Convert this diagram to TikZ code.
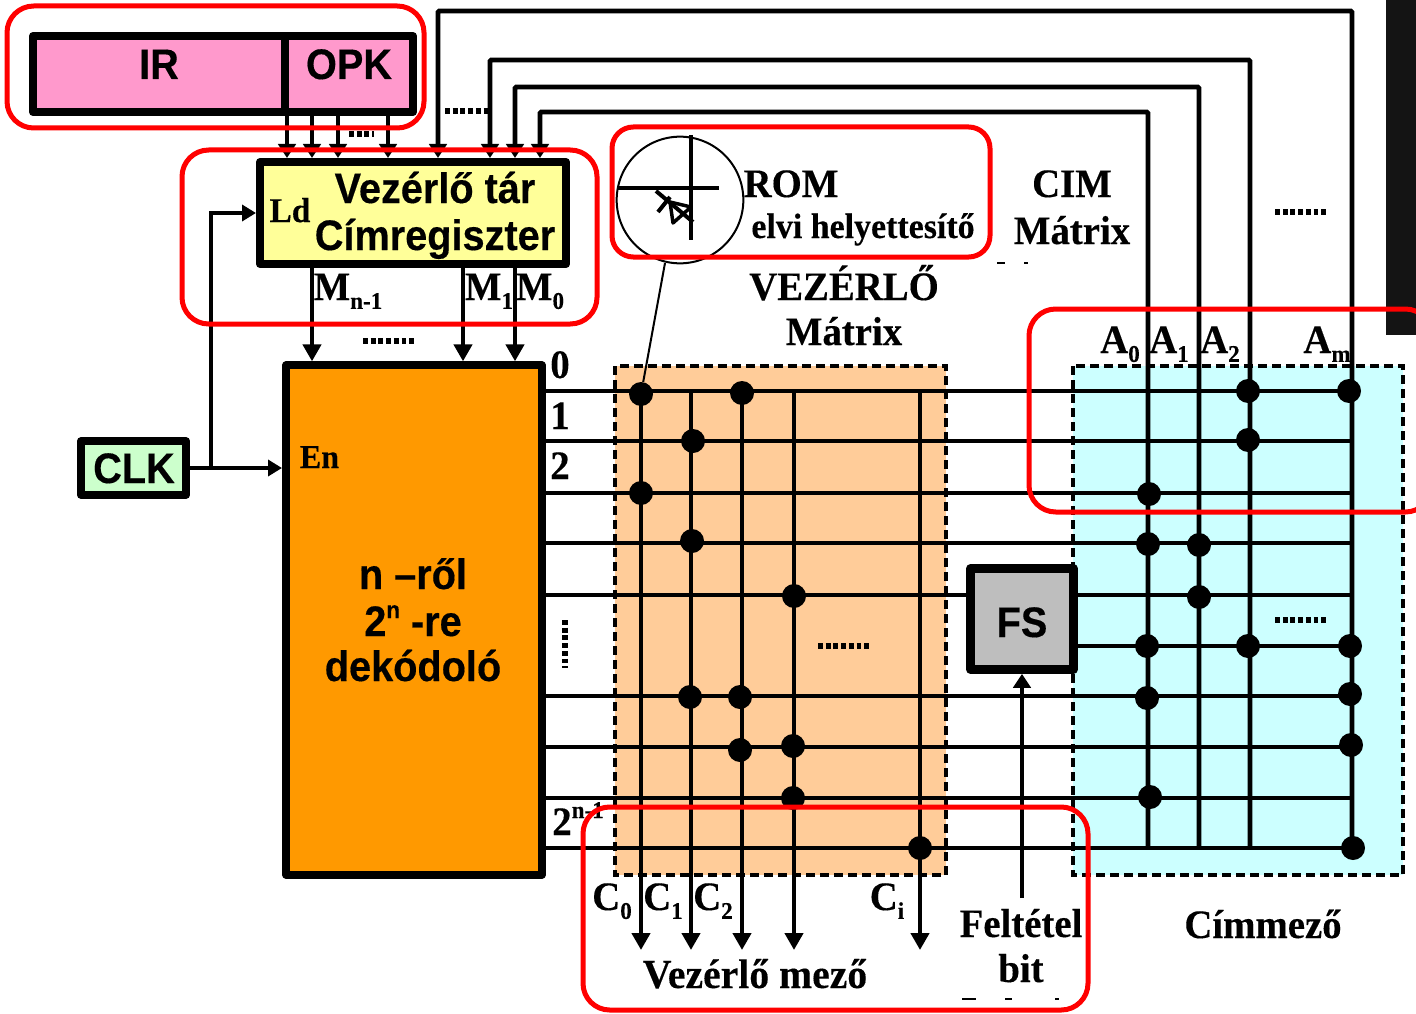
\documentclass[tikz,border=0pt]{standalone}
\usepackage{fontspec}
\setmainfont{Liberation Serif}[FakeStretch=0.96,BoldFeatures={FakeBold=0.25}]
\setsansfont{Liberation Sans}[FakeStretch=0.93,BoldFeatures={FakeBold=0.35}]
\usetikzlibrary{arrows.meta}
\newcommand\lsub[1]{\raisebox{-.22em}{\fontsize{18}{18}\selectfont #1}}
\newcommand\lsup[1]{\raisebox{.42em}{\fontsize{18}{18}\selectfont #1}}
\tikzset{
  box/.style={draw=black,line width=6pt,line join=round,inner sep=0pt},
  region/.style={draw=black,line width=3pt,dash pattern=on 7pt off 3.5pt},
  wire/.style={line width=3.6pt,draw=black},
  rowline/.style={line width=3pt,draw=black},
  bigtip/.style={-{Triangle[length=12.75pt,width=13.5pt]}},
  smalltip/.style={-{Triangle[length=10.5pt,width=13pt]}},
  junction/.style={circle,fill=black,inner sep=0pt,minimum size=18pt},
  dotrun/.style={line width=3.8pt,draw=black,dash pattern=on 3.6pt off 2.2pt},
  redbox/.style={draw=red,line width=3.75pt,rounded corners=20pt},
  sanslab/.style={font=\sffamily\bfseries\fontsize{32}{33}\selectfont,anchor=base,inner sep=0pt},
  seriflab/.style={font=\bfseries\fontsize{30.3}{31}\selectfont,anchor=base,inner sep=0pt},
}
\begin{document}
\begin{tikzpicture}[x=.75pt,y=-.75pt]
\useasboundingbox (0,0) rectangle (1416,1013);
% dark strip at the right edge
\fill[black!92] (1386,0) rectangle (1416,335);
% coloured regions
\fill[fill={rgb,255:red,255;green,204;blue,153}] (615,366) rectangle (946,875);
\fill[fill={rgb,255:red,204;green,255;blue,255}] (1073,366) rectangle (1403,875);
\draw[region] (615,366) rectangle (946,875);
\draw[region] (1073,366) rectangle (1403,875);
% boxes
\node[box,fill={rgb,255:red,255;green,153;blue,204},minimum width=285pt,minimum height=57pt] (ir) at (223,74) {};
\node[box,fill={rgb,255:red,255;green,255;blue,153},minimum width=229.5pt,minimum height=76.5pt] (car) at (413,213) {};
\node[box,fill={rgb,255:red,255;green,153;blue,0},minimum width=192pt,minimum height=382pt] (dec) at (414,620) {};
\node[box,fill={rgb,255:red,204;green,255;blue,204},minimum width=79pt,minimum height=40pt] (clk) at (133.5,468) {};
\coordinate (irdivT) at (285,36); \coordinate (irdivB) at (285,112);
\draw[line width=5.5pt] (irdivT) -- (irdivB);
% positions
\foreach \n/\xx in {x1/287,x2/312,x3/338,x4/388,x5/438,x6/490,x7/515,x8/540,m1/312,m2/463,m3/515,
  c0/641,c1/691,c2/742,c3/794,c4/920,a0/1148,a1/1199,a2/1250,a3/1352,ldx/211,rowend/1352,fsx/1022}
  {\coordinate (\n) at (\xx,0);}
\foreach \n/\yy in {r0/391,r1/441,r2/493,r3/543,r4/595,r5/646,r6/696,r7/747,r8/798,r9/848,
  t0/112,t1/87,t2/60,t3/11,cend/950}
  {\coordinate (\n) at (0,\yy);}
\coordinate (fsfoot) at (1022,898);
% FS node first so that rows can stop at it
\node[box,line width=6.8pt,fill={rgb,255:red,190;green,190;blue,190},minimum width=77pt,minimum height=75.5pt] (fs) at (1022,619) {};
% rows
\foreach \r in {r0,r1,r2,r3,r6,r7,r8,r9}
  \draw[rowline] (dec.east |- \r) -- (rowend |- \r);
\draw[rowline] (dec.east |- r4) -- (fs.west |- r4);
\draw[rowline] (fs.east |- r4) -- (rowend |- r4);
\draw[rowline] (fs.east |- r5) -- (rowend |- r5);
% control columns
\foreach \c in {c0,c1,c2,c3,c4}
  \draw[wire,bigtip] (\c |- r0) -- (\c |- cend);
% address columns, led back to the register
\draw[wire,rounded corners=1pt,smalltip] (a0 |- r9) -- (a0 |- t0) -- (x8 |- t0) -- (x8 |- car.north);
\draw[wire,rounded corners=1pt,smalltip] (a1 |- r9) -- (a1 |- t1) -- (x7 |- t1) -- (x7 |- car.north);
\draw[wire,rounded corners=1pt,smalltip] (a2 |- r9) -- (a2 |- t2) -- (x6 |- t2) -- (x6 |- car.north);
\draw[wire,rounded corners=1pt,smalltip] (a3 |- r9) -- (a3 |- t3) -- (x5 |- t3) -- (x5 |- car.north);
% IR to register
\foreach \c in {x1,x2,x3,x4}
  \draw[wire,smalltip] (\c |- ir.south) -- (\c |- car.north);
% register to decoder
\foreach \c in {m1,m2,m3}
  \draw[wire,bigtip] (\c |- car.south) -- (\c |- dec.north);
% clock
\draw[wire,-{Triangle[length=10.5pt,width=12pt]}] (clk.east) -- (dec.west |- clk.east);
\draw[wire,-{Triangle[length=10.5pt,width=12pt]}] (ldx |- clk.east) -- (ldx |- car.west) -- (car.west);
% FS input
\draw[wire,smalltip] (fsfoot) -- (fs.south);
% junctions
\foreach \nn/\xx/\yy in {j1/641/394,j2/742/393,j3/693/441,j4/641/493,j5/692/541,j6/794/596,j7/690/697,j8/740/697,j9/740/750,j10/793/746,j11/793/798,j12/920/848,
  j13/1248/391,j14/1349/391,j15/1248/440,j16/1149/494,j17/1148/544,j18/1199/545,j19/1199/597,j20/1147/646,j21/1248/646,j22/1350/646,j23/1147/698,j24/1350/694,j25/1351/745,j26/1150/797,j27/1353/848}
  \node[junction] (\nn) at (\xx,\yy) {};
% ROM symbol
\node[circle,draw=black,line width=1.5pt,inner sep=0pt,minimum size=95pt] (romc) at (680,200) {};
\coordinate (hA) at (617,188); \coordinate (hB) at (719,188);
\coordinate (vA) at (691,135); \coordinate (vB) at (691,240);
\draw[line width=3.2pt] (hA) -- (hB);
\draw[line width=2.8pt] (vA) -- (vB);
\draw[line width=3pt] (656,191) -- (693,222);
\draw[line width=3pt] (670,197) -- (658,212);
\draw[line width=2.6pt,line join=round] (670,202) -- (673,223) -- (691,207) -- cycle;
\coordinate (romfoot) at (665,263);
\draw[line width=1.5pt] (romfoot) -- (j1);
% runs of dots
\draw[dotrun] (445,111) -- (490,111);
\draw[dotrun] (349,134) -- (374,134);
\draw[dotrun] (363,341) -- (414,341);
\draw[dotrun] (1275,212) -- (1327,212);
\draw[dotrun] (1275,620) -- (1327,620);
\draw[dotrun] (818,646) -- (870,646);
\draw[dotrun] (565,620) -- (565,668);
% clipped marks of hidden text
\draw[line width=1.1pt] (997,263) -- (1005,263) (1024,263) -- (1028,263);
\draw[line width=1.4pt] (962,999) -- (976,999) (1005,999) -- (1012,999) (1055,999) -- (1059,999);
% sans labels
\node[sanslab] (tir) at (159,79) {IR};
\node[sanslab] (topk) at (349,79) {OPK};
\node[sanslab] (tcar1) at (435,203) {Vezérlő tár};
\node[sanslab] (tcar2) at (435,250) {Címregiszter};
\node[sanslab] (tclk) at (134,483) {CLK};
\node[sanslab] (tfs) at (1022,637) {FS};
\node[sanslab] (td1) at (413,589) {n –ről};
\node[sanslab] (td2) at (413,636) {2\lsup{n} -re};
\node[sanslab] (td3) at (413,681) {dekódoló};
% serif labels
\node[seriflab] (tld) at (290,222) {\fontsize{26}{27}\selectfont Ld};
\node[seriflab] (ten) at (319.5,468) {\fontsize{25}{26}\selectfont En};
\node[seriflab] (tmn) at (348,300) {M\lsub{n-1}};
\node[seriflab] (tm1) at (489,300) {M\lsub{1}};
\node[seriflab] (tm0) at (540,300) {M\lsub{0}};
\node[seriflab] (trom) at (791,197) {ROM};
\node[seriflab] (telvi) at (863,238) {\fontsize{26.5}{27}\selectfont elvi helyettesítő};
\node[seriflab] (tcim) at (1072,197) {CIM};
\node[seriflab] (tcm) at (1072,244) {Mátrix};
\node[seriflab] (tvez) at (844,300) {VEZÉRLŐ};
\node[seriflab] (tvm) at (844,345) {Mátrix};
\node[seriflab] (ta0) at (1120,353) {A\lsub{0}};
\node[seriflab] (ta1) at (1169,353) {A\lsub{1}};
\node[seriflab] (ta2) at (1220,353) {A\lsub{2}};
\node[seriflab] (tam) at (1327,353) {A\lsub{m}};
\node[seriflab] (tr0) at (560,378) {0};
\node[seriflab] (tr1) at (560,429) {1};
\node[seriflab] (tr2) at (560,479) {2};
\node[seriflab] (trn) at (578,835) {2\lsup{n-1}};
\node[seriflab] (tc0) at (612,910) {C\lsub{0}};
\node[seriflab] (tc1) at (663,910) {C\lsub{1}};
\node[seriflab] (tc2) at (713,910) {C\lsub{2}};
\node[seriflab] (tci) at (887,910) {C\lsub{i}};
\node[seriflab] (tvm2) at (755,988) {\fontsize{31}{32}\selectfont Vezérlő mező};
\node[seriflab] (tfb) at (1021,937) {Feltétel};
\node[seriflab] (tbit) at (1021,982) {bit};
\node[seriflab] (tcmz) at (1263,938) {Címmező};
% red highlights
\draw[redbox] (7,6) rectangle (424,128);
\draw[redbox] (182,150) rectangle (597,324);
\draw[redbox,rounded corners=16pt] (612,127) rectangle (990,257);
\draw[redbox] (1029,309) rectangle (1432,512);
\draw[redbox] (583,807) rectangle (1088,1010);
\end{tikzpicture}
\end{document}
